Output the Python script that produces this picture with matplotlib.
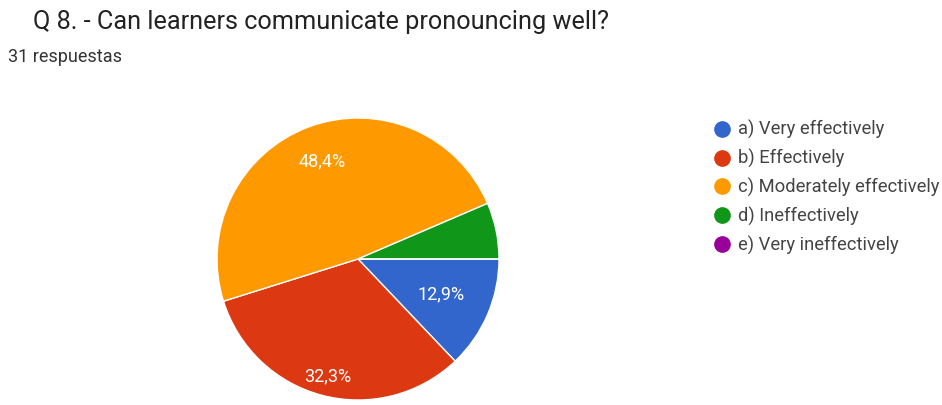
import matplotlib
matplotlib.use("Agg")
import matplotlib.pyplot as plt
from matplotlib.lines import Line2D
import numpy as np

title = "Q 8. - Can learners communicate pronouncing well?"
subtitle = "31 respuestas"
categories = ["a) Very effectively", "b) Effectively", "c) Moderately effectively",
              "d) Ineffectively", "e) Very ineffectively"]
counts = [4, 10, 15, 2, 0]
colors = ["#3366cc", "#dc3912", "#ff9900", "#109618", "#990099"]
label_dist = [0.64, 0.86, 0.74, 0.7, 0.7]

plt.rcParams['font.family'] = ['Roboto', 'DejaVu Sans']

fig = plt.figure(figsize=(9.42, 4.05), dpi=100)
fig.patch.set_facecolor("white")

ax = fig.add_axes([217/942, 5/405, 282/942, 282/405])

def fmt(p):
    if p < 10:
        return ""
    return f"{p:.1f}%".replace(".", ",")

wedges, texts, autotexts = ax.pie(
    counts, colors=colors, startangle=0, counterclock=False,
    autopct=fmt, pctdistance=0.7, radius=1,
    wedgeprops=dict(edgecolor="white", linewidth=1.0),
    textprops=dict(color="white", fontsize=13))

for w, t, d in zip(wedges, autotexts, label_dist):
    ang = np.deg2rad((w.theta1 + w.theta2) / 2)
    t.set_position((d * np.cos(ang), d * np.sin(ang)))

ax.set_xlim(-1, 1)
ax.set_ylim(-1, 1)
ax.set_aspect("equal")
ax.axis("off")

fig.text(33/942, 1 - 22/405, title, fontsize=18.2, color="#222222", va="center", ha="left")
fig.text(8/942, 1 - 57/405, subtitle, fontsize=13, color="#333333", va="center", ha="left")

handles = [Line2D([0], [0], marker="o", linestyle="", markersize=11,
                  markerfacecolor=c, markeredgecolor=c) for c in colors]
fig.legend(handles, categories, loc="upper left",
           bbox_to_anchor=(702/942, 1 - 111/405), frameon=False,
           fontsize=13.2, labelcolor="#444444", handletextpad=0.25,
           labelspacing=0.53, handlelength=1.2, borderpad=0)

fig.savefig("out.png", dpi=100, facecolor="white")
